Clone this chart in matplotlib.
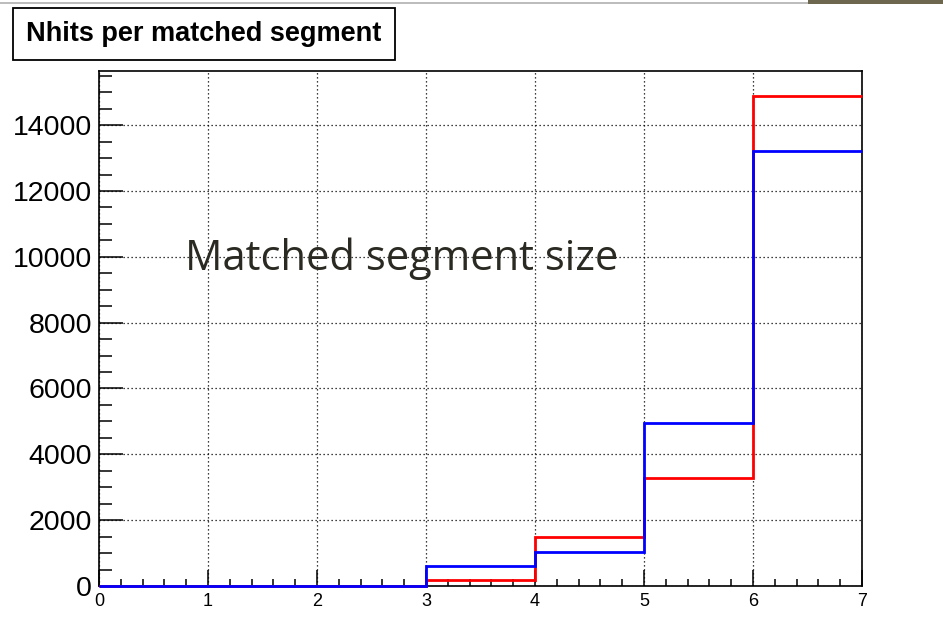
import numpy as np
import matplotlib
matplotlib.use("Agg")
import matplotlib.pyplot as plt
from matplotlib.ticker import MultipleLocator
from matplotlib.patches import Rectangle

# bin edges and contents of the two histograms
edges = [0, 1, 2, 3, 4, 5, 6, 7]
red_counts = [0, 0, 0, 182, 1485, 3273, 14900]
blue_counts = [0, 0, 0, 606, 1040, 4960, 13200]

title = "Nhits per matched segment"
note = "Matched segment size"

fig = plt.figure(figsize=(9.43, 6.31), dpi=100)
ax = fig.add_axes([99 / 943, 45 / 631, 763 / 943, 515 / 631])

ax.stairs(red_counts, edges, color="#ff0000", lw=2.0, baseline=None, zorder=3,
          clip_on=False)
ax.stairs(blue_counts, edges, color="#0000ff", lw=2.0, baseline=None, zorder=4,
          clip_on=False)

ax.set_xlim(0, 7)
ax.set_ylim(0, 1.05 * max(red_counts))

# ROOT-like ticks: inside, only bottom and left
ax.xaxis.set_major_locator(MultipleLocator(1))
ax.xaxis.set_minor_locator(MultipleLocator(0.2))
ax.yaxis.set_major_locator(MultipleLocator(2000))
ax.yaxis.set_minor_locator(MultipleLocator(500))
ax.tick_params(axis="x", which="major", direction="in", length=11.5, width=1.1,
               labelsize=13, pad=5)
ax.tick_params(axis="x", which="minor", direction="in", length=5, width=1.1)
ax.tick_params(axis="y", which="major", direction="in", length=17, width=1.1,
               labelsize=20.5, pad=5)
ax.tick_params(axis="y", which="minor", direction="in", length=9.4, width=1.1)
for lab in ax.get_xticklabels() + ax.get_yticklabels():
    lab.set_family("Liberation Sans")

ax.grid(True, which="major", color="black", lw=0.9, linestyle=(0, (1, 2.2)), zorder=1)
for s in ax.spines.values():
    s.set_linewidth(1.2)

# title box
fig.add_artist(Rectangle((13 / 943, 1 - 60 / 631), 382 / 943, 52 / 631,
                         transform=fig.transFigure, fc="white", ec="black", lw=1.3))
fig.text(204 / 943, 1 - 34 / 631, title, fontsize=19.5, fontweight="bold",
         family="Liberation Sans", va="center", ha="center")

# overlaid annotation
fig.text(185 / 943, 1 - 259 / 631, note, fontsize=30, family="Open Sans",
         color="#2b2a22", va="center", ha="left")

# screenshot edge at the top
fig.add_artist(Rectangle((0, 1 - 4 / 631), 808 / 943, 2 / 631, transform=fig.transFigure,
                         color="#bdbdbd", lw=0))
fig.add_artist(Rectangle((808 / 943, 1 - 4 / 631), 135 / 943, 4 / 631,
                         transform=fig.transFigure, color="#6e6750", lw=0))

fig.savefig("out.png", dpi=100)
